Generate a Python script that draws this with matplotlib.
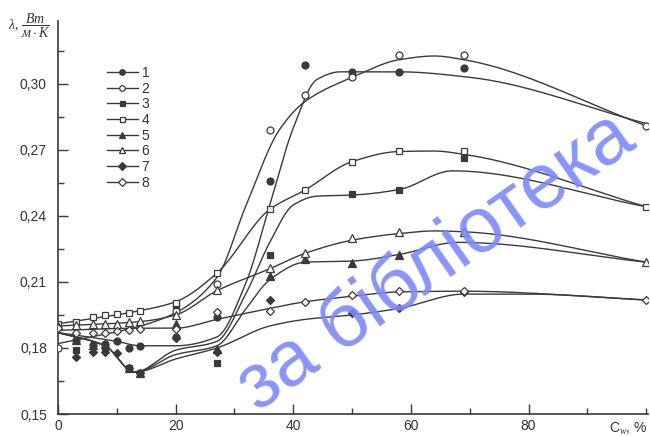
import numpy as np
import matplotlib
matplotlib.use("Agg")
import matplotlib.pyplot as plt
from matplotlib.lines import Line2D
from matplotlib.ticker import MultipleLocator, FuncFormatter

# ---------------- data ----------------
x_ticks = [0, 20, 40, 60, 80]
y_ticks = [0.15, 0.18, 0.21, 0.24, 0.27, 0.30]
labels = ["1", "2", "3", "4", "5", "6", "7", "8"]

# measured points (markers)
s1_x = [3, 6, 8, 10, 12, 14, 20, 27, 36, 42, 50, 58, 69]
s1_y = [0.1835, 0.1815, 0.182, 0.183, 0.180, 0.181, 0.185, 0.194, 0.256, 0.3085, 0.3053, 0.3053, 0.3071]
s2_x = [0, 20, 27, 36, 42, 50, 58, 69, 100]
s2_y = [0.180, 0.197, 0.209, 0.279, 0.295, 0.3033, 0.3132, 0.3132, 0.281]
s3_x = [3, 8, 12, 14, 20, 27, 36, 50, 58, 69]
s3_y = [0.179, 0.1806, 0.1708, 0.1685, 0.1995, 0.1733, 0.2223, 0.2499, 0.2518, 0.2665]
s4_x = [0, 3, 6, 8, 10, 12, 14, 20, 27, 36, 42, 50, 58, 69, 100]
s4_y = [0.191, 0.192, 0.194, 0.195, 0.1955, 0.196, 0.197, 0.2005, 0.2142, 0.243, 0.2518, 0.2647, 0.2695, 0.2695, 0.2442]
s5_x = [3, 6, 8, 12, 14, 20, 27, 36, 42, 50, 58, 69]
s5_y = [0.1836, 0.1814, 0.182, 0.1708, 0.1685, 0.191, 0.1795, 0.2127, 0.2203, 0.2186, 0.2223, 0.2325]
s6_x = [0, 3, 6, 8, 10, 12, 14, 20, 27, 36, 42, 50, 58, 69, 100]
s6_y = [0.190, 0.1905, 0.1908, 0.191, 0.191, 0.1917, 0.1924, 0.195, 0.2064, 0.2162, 0.223, 0.2299, 0.2329, 0.2329, 0.219]
s7_x = [3, 6, 8, 10, 12, 14, 20, 27, 36, 50, 58, 69]
s7_y = [0.176, 0.1783, 0.1783, 0.1776, 0.1708, 0.1685, 0.1847, 0.178, 0.202, 0.196, 0.198, 0.2055]
s8_x = [0, 3, 6, 8, 10, 12, 14, 20, 27, 36, 42, 50, 58, 69, 100]
s8_y = [0.189, 0.1866, 0.187, 0.187, 0.1875, 0.188, 0.1885, 0.1885, 0.1965, 0.197, 0.201, 0.204, 0.206, 0.206, 0.2018]

# smoothed (hand-drawn) curves through knots
c1_x = [0, 10, 14, 20, 27, 32, 36, 40, 44, 48, 58, 70, 100]
c1_y = [0.187, 0.183, 0.181, 0.181, 0.185, 0.21, 0.245, 0.28, 0.302, 0.3055, 0.3055, 0.303, 0.282]
c2_x = [0, 14, 20, 27, 32, 37.6, 42, 50, 58, 64, 69, 100]
c2_y = [0.182, 0.19, 0.196, 0.212, 0.245, 0.279, 0.292, 0.303, 0.311, 0.3127, 0.311, 0.281]
c3_x = [0, 8, 13, 20, 27, 32, 36, 40, 44, 50, 58, 67, 100]
c3_y = [0.187, 0.181, 0.169, 0.179, 0.183, 0.205, 0.228, 0.245, 0.249, 0.2495, 0.252, 0.2605, 0.2442]
c4_x = [0, 14, 20, 27, 36, 42, 50, 58, 64, 69, 100]
c4_y = [0.191, 0.197, 0.201, 0.214, 0.243, 0.2518, 0.2647, 0.2693, 0.2695, 0.268, 0.2442]
c5_x = [0, 8, 13, 20, 27, 32, 36, 42, 50, 58, 68, 100]
c5_y = [0.187, 0.181, 0.169, 0.177, 0.181, 0.198, 0.211, 0.219, 0.2195, 0.2225, 0.228, 0.219]
c6_x = [0, 14, 20, 27, 36, 42, 50, 58, 64, 69, 100]
c6_y = [0.190, 0.192, 0.195, 0.206, 0.216, 0.223, 0.229, 0.232, 0.2332, 0.2328, 0.219]
c7_x = [0, 8, 13, 20, 27, 36, 42, 50, 58, 69, 80, 100]
c7_y = [0.187, 0.181, 0.169, 0.175, 0.18, 0.19, 0.193, 0.195, 0.198, 0.2045, 0.2045, 0.2018]
c8_x = [0, 14, 20, 27, 36, 42, 50, 58, 69, 100]
c8_y = [0.188, 0.189, 0.189, 0.193, 0.198, 0.201, 0.2035, 0.2055, 0.2058, 0.2018]


def pchip(x, y, xs):
    x = np.asarray(x, float)
    y = np.asarray(y, float)
    h = np.diff(x)
    dl = np.diff(y) / h
    n = len(x)
    d = np.zeros(n)
    for k in range(1, n - 1):
        if dl[k - 1] * dl[k] <= 0:
            d[k] = 0.0
        else:
            w1 = 2 * h[k] + h[k - 1]
            w2 = h[k] + 2 * h[k - 1]
            d[k] = (w1 + w2) / (w1 / dl[k - 1] + w2 / dl[k])
    d[0] = dl[0]
    d[-1] = dl[-1]
    idx = np.clip(np.searchsorted(x, xs) - 1, 0, n - 2)
    t = (xs - x[idx]) / h[idx]
    h00 = 2 * t**3 - 3 * t**2 + 1
    h10 = t**3 - 2 * t**2 + t
    h01 = -2 * t**3 + 3 * t**2
    h11 = t**3 - t**2
    return h00 * y[idx] + h10 * h[idx] * d[idx] + h01 * y[idx + 1] + h11 * h[idx] * d[idx + 1]


plt.rcParams["font.family"] = ["Liberation Sans", "DejaVu Sans"]
plt.rcParams["mathtext.fontset"] = "custom"
plt.rcParams["mathtext.rm"] = "Liberation Serif"
plt.rcParams["mathtext.it"] = "Liberation Serif:italic"

fig = plt.figure(figsize=(6.5, 4.36), dpi=100)
ax = fig.add_axes([58 / 650, 22 / 436, 590 / 650, 393 / 436])

lc = "#3a3a3a"
series = [
    (s1_x, s1_y, c1_x, c1_y, "o", lc, 5),
    (s2_x, s2_y, c2_x, c2_y, "o", "white", 5),
    (s3_x, s3_y, c3_x, c3_y, "s", lc, 4.5),
    (s4_x, s4_y, c4_x, c4_y, "s", "white", 4.5),
    (s5_x, s5_y, c5_x, c5_y, "^", lc, 5.5),
    (s6_x, s6_y, c6_x, c6_y, "^", "white", 5.5),
    (s7_x, s7_y, c7_x, c7_y, "D", lc, 4.5),
    (s8_x, s8_y, c8_x, c8_y, "D", "white", 4.5),
]

handles = []
for (sx, sy, cx, cy, m, fc, ms), lab in zip(series, labels):
    xs = np.linspace(cx[0], cx[-1], 400)
    ax.plot(xs, pchip(cx, cy, xs), color=lc, lw=1.0, zorder=2)
    ax.plot(sx, sy, linestyle="none", marker=m, markersize=ms, markerfacecolor=fc,
            markeredgecolor=lc, markeredgewidth=0.9, zorder=3)
    handles.append(Line2D([], [], color=lc, lw=1.0, marker=m, markersize=ms * 0.8,
                          markerfacecolor=fc, markeredgecolor=lc, markeredgewidth=0.9))

leg = ax.legend(handles, labels, loc="upper left", bbox_to_anchor=(100 / 650, 1 - 59 / 436),
                bbox_transform=fig.transFigure, frameon=False, fontsize=10,
                handlelength=2.2, handletextpad=0.3, labelspacing=0.12, borderpad=0)
for t in leg.get_texts():
    t.set_color("#333333")

ax.set_xlim(0, 100.3)
ax.set_ylim(0.15, 0.3286)
for s in ["top", "right"]:
    ax.spines[s].set_visible(False)
for s in ["left", "bottom"]:
    ax.spines[s].set_color(lc)
    ax.spines[s].set_linewidth(1.2)

ax.set_xticks(x_ticks)
ax.set_yticks(y_ticks)
ax.xaxis.set_minor_locator(MultipleLocator(10))
ax.yaxis.set_minor_locator(MultipleLocator(0.015))
ax.yaxis.set_major_formatter(FuncFormatter(lambda v, p: f"{v:.2f}".replace(".", ",")))
ax.tick_params(which="both", direction="in", colors=lc, labelcolor="#333333", labelsize=10)
ax.tick_params(which="major", length=7, width=1)
ax.tick_params(which="minor", length=4, width=1)
ax.tick_params(axis="y", pad=8)

fig.text(8 / 650, 1 - 26 / 436, r"$\lambda,\,\dfrac{Bm}{м\cdot K}$", fontsize=10,
         ha="left", va="center", color="#333333")
fig.text(648 / 650, 1 - 429 / 436, r"C$_{w}$, %", fontsize=10, ha="right", va="center",
         color="#333333")

fig.text(436 / 650, 1 - 262 / 436, "за бібліотека", fontsize=56, color="#7b88ff", alpha=0.9,
         rotation=35, ha="center", va="center", zorder=10)

fig.savefig("out.png", dpi=100)
